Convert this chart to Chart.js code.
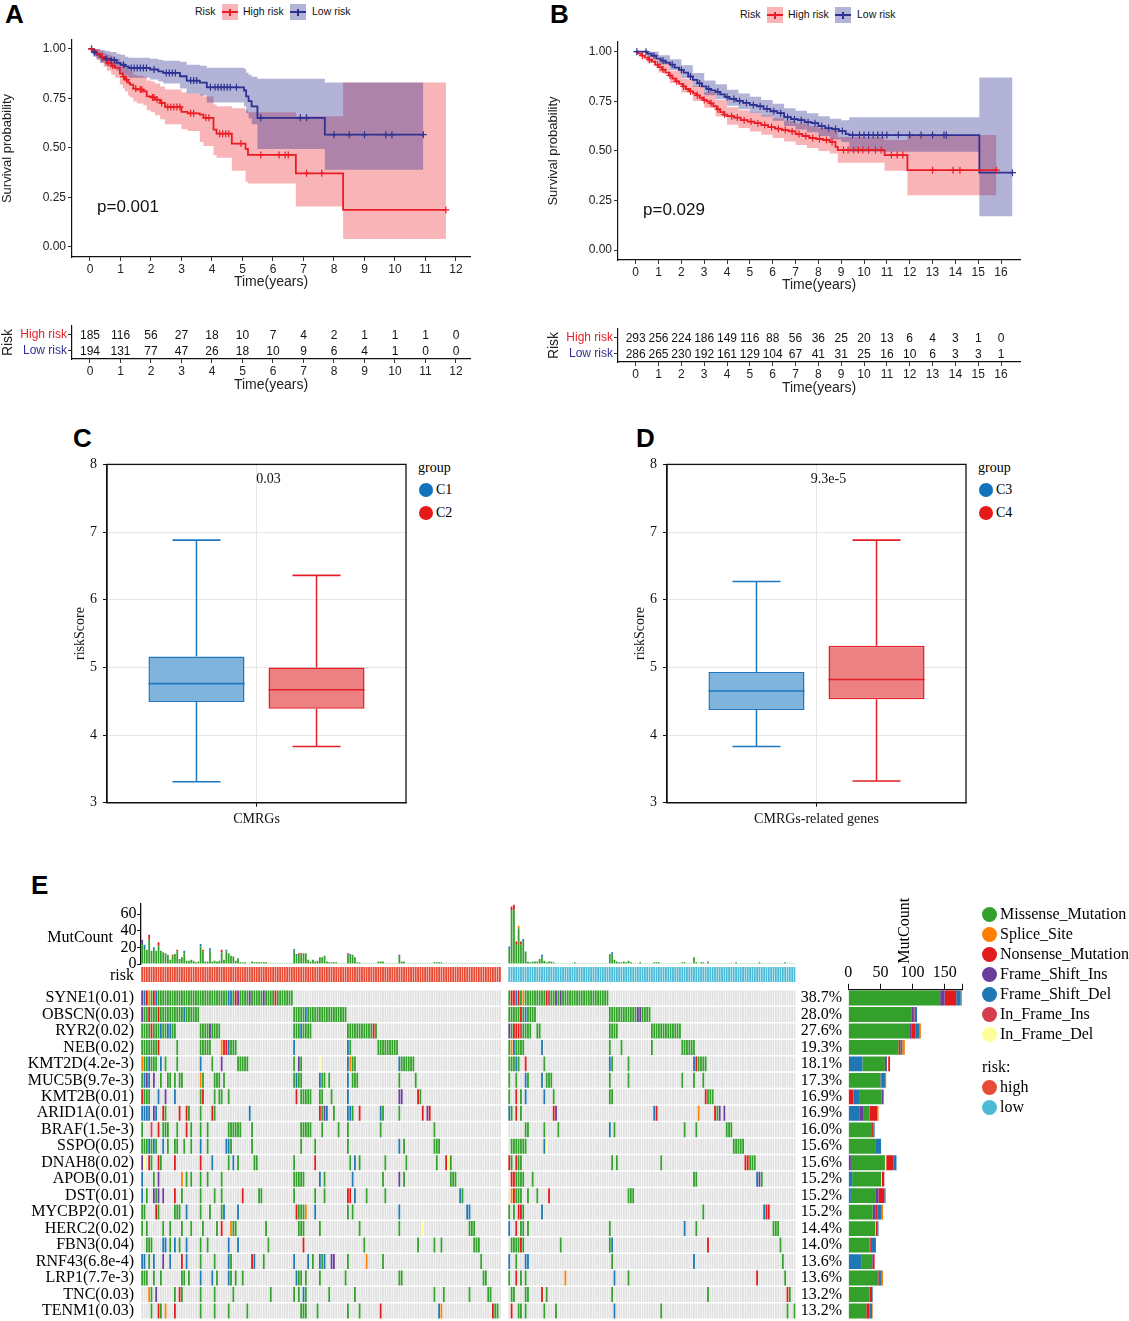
<!DOCTYPE html>
<html>
<head>
<meta charset="utf-8">
<script src="https://cdn.jsdelivr.net/npm/chart.js@4.4.1/dist/chart.umd.min.js"></script>
<style>
  html, body { margin: 0; padding: 0; background: #fff; overflow: hidden; }
  #page { position: relative; width: 1129px; height: 1321px; overflow: hidden; background: #fff; }
  #page canvas, #page div { position: absolute; }
  .t { white-space: nowrap; line-height: 1; color: #111; }
  .sans { font-family: 'Liberation Sans', Arial, sans-serif; }
  .serif { font-family: 'Liberation Serif', 'Times New Roman', serif; color: #000; }
  .tag { font-family: 'Liberation Sans', Arial, sans-serif; font-weight: bold; color: #000; }
</style>
</head>
<body>
<div id="page"></div>
<script>
// ---------- panel A / B : survival curves ----------
const kmAHighT  = [0, 0.1, 0.2, 0.33, 0.45, 0.55, 0.7, 0.82, 0.98, 1.08, 1.15, 1.25, 1.31, 1.42, 1.55, 1.75, 1.86, 2.0, 2.13, 2.3, 2.46, 3.0, 3.2, 3.6, 3.72, 4.05, 4.15, 4.65, 5.1, 5.18, 6.75, 8.3, 11.67];
const kmAHighS  = [1, 0.99, 0.975, 0.96, 0.945, 0.93, 0.915, 0.904, 0.875, 0.86, 0.845, 0.83, 0.82, 0.8, 0.795, 0.786, 0.76, 0.755, 0.744, 0.727, 0.707, 0.682, 0.675, 0.668, 0.652, 0.593, 0.572, 0.522, 0.495, 0.465, 0.372, 0.187, 0.187];
const kmAHighUp = [1, 1, 1, 0.99, 0.98, 0.97, 0.96, 0.95, 0.93, 0.92, 0.905, 0.895, 0.885, 0.87, 0.865, 0.86, 0.84, 0.835, 0.825, 0.81, 0.795, 0.78, 0.775, 0.77, 0.76, 0.72, 0.71, 0.70, 0.69, 0.68, 0.66, 0.83, 0.83];
const kmAHighLo = [1, 0.97, 0.95, 0.93, 0.91, 0.89, 0.87, 0.855, 0.82, 0.80, 0.785, 0.765, 0.755, 0.735, 0.725, 0.715, 0.69, 0.68, 0.665, 0.645, 0.62, 0.595, 0.585, 0.53, 0.51, 0.465, 0.45, 0.385, 0.33, 0.32, 0.205, 0.04, 0.04];
const kmAHighCens = [0.05, 0.4, 0.6, 0.75, 1.1, 1.2, 1.5, 1.65, 1.7, 2.05, 2.1, 2.2, 2.35, 2.55, 2.65, 2.75, 2.85, 2.95, 3.3, 3.4, 3.8, 3.9, 4.25, 4.35, 4.45, 4.55, 4.95, 5.6, 6.2, 6.4, 6.5, 7.1, 7.6, 11.67];

const kmALowT  = [0, 0.1, 0.22, 0.33, 0.5, 0.66, 0.87, 1.0, 1.15, 1.26, 1.97, 2.24, 2.4, 2.95, 3.17, 3.6, 3.83, 5.05, 5.12, 5.2, 5.3, 5.49, 7.7, 10.93];
const kmALowS  = [1, 0.983, 0.971, 0.96, 0.95, 0.943, 0.93, 0.92, 0.912, 0.904, 0.896, 0.887, 0.879, 0.862, 0.84, 0.83, 0.806, 0.79, 0.76, 0.736, 0.71, 0.652, 0.567, 0.567];
const kmALowUp = [1, 1, 1, 0.995, 0.99, 0.985, 0.975, 0.97, 0.96, 0.955, 0.95, 0.945, 0.94, 0.935, 0.92, 0.915, 0.905, 0.90, 0.88, 0.87, 0.86, 0.85, 0.83, 0.83];
const kmALowLo = [1, 0.96, 0.945, 0.93, 0.915, 0.905, 0.89, 0.875, 0.865, 0.855, 0.845, 0.835, 0.825, 0.80, 0.775, 0.765, 0.73, 0.71, 0.675, 0.65, 0.62, 0.495, 0.39, 0.39];
const kmALowCens = [0.05, 0.15, 0.4, 0.55, 0.7, 0.8, 1.1, 1.35, 1.45, 1.55, 1.65, 1.75, 1.85, 2.1, 2.5, 2.6, 2.7, 2.8, 3.3, 3.4, 3.5, 3.95, 4.1, 4.2, 4.3, 4.4, 4.5, 4.6, 4.8, 5.6, 6.9, 7.1, 8.0, 8.5, 9.0, 9.7, 9.9, 10.93];

const kmBHighT = [0, 0.1, 0.25, 0.4, 0.55, 0.7, 0.85, 1.0, 1.15, 1.3, 1.45, 1.6, 1.75, 1.9, 2.05, 2.2, 2.35, 2.5, 2.65, 2.8, 2.95, 3.1, 3.25, 3.4, 3.55, 3.7, 3.85, 4.0, 4.3, 4.6, 4.9, 5.2, 5.5, 5.8, 6.1, 6.4, 6.7, 7.0, 7.3, 7.6, 7.9, 8.2, 8.5, 8.75, 8.85, 10.9, 11.9, 15.8];
const kmBHighS = [1, 0.99, 0.98, 0.97, 0.96, 0.95, 0.935, 0.922, 0.91, 0.895, 0.88, 0.865, 0.85, 0.838, 0.825, 0.812, 0.80, 0.79, 0.78, 0.768, 0.757, 0.75, 0.74, 0.725, 0.71, 0.695, 0.683, 0.675, 0.668, 0.655, 0.648, 0.64, 0.63, 0.62, 0.612, 0.605, 0.598, 0.585, 0.575, 0.565, 0.56, 0.555, 0.545, 0.52, 0.504, 0.479, 0.403, 0.403];
const kmBHighCiT = [0, 0.5, 1, 1.5, 2, 2.5, 3, 3.5, 4, 4.5, 5, 5.5, 6, 6.5, 7, 7.5, 8, 8.5, 8.85, 10.9, 11.9, 15.8];
const kmBHighUp  = [1, 0.985, 0.95, 0.905, 0.865, 0.827, 0.797, 0.757, 0.72, 0.705, 0.692, 0.678, 0.665, 0.652, 0.638, 0.625, 0.615, 0.605, 0.57, 0.555, 0.58, 0.58];
const kmBHighLo  = [1, 0.945, 0.895, 0.842, 0.795, 0.752, 0.717, 0.673, 0.632, 0.615, 0.598, 0.582, 0.565, 0.548, 0.53, 0.515, 0.5, 0.487, 0.44, 0.40, 0.277, 0.277];
const kmBHighCens = [0.3, 0.6, 0.95, 1.2, 1.5, 1.8, 2.1, 2.4, 2.7, 3.0, 3.3, 3.6, 3.9, 4.2, 4.45, 4.75, 5.05, 5.35, 5.65, 5.95, 6.25, 6.55, 6.85, 7.15, 7.45, 7.75, 8.05, 8.35, 8.6, 9.1, 9.3, 9.55, 9.75, 9.95, 10.2, 10.5, 10.75, 11.2, 11.45, 11.7, 13.0, 13.9, 14.2, 15.8];

const kmBLowT = [0, 0.5, 0.7, 0.9, 1.1, 1.3, 1.5, 1.7, 1.9, 2.1, 2.3, 2.5, 2.7, 2.9, 3.1, 3.3, 3.5, 3.7, 3.9, 4.1, 4.4, 4.7, 5.0, 5.3, 5.6, 5.9, 6.2, 6.5, 6.8, 7.1, 7.4, 7.7, 8.0, 8.3, 8.6, 8.9, 9.2, 9.35, 15.05, 16.5];
const kmBLowS = [1, 0.99, 0.98, 0.965, 0.955, 0.945, 0.935, 0.92, 0.908, 0.895, 0.875, 0.858, 0.84, 0.825, 0.812, 0.805, 0.798, 0.785, 0.772, 0.762, 0.752, 0.742, 0.732, 0.725, 0.712, 0.70, 0.69, 0.67, 0.66, 0.655, 0.645, 0.64, 0.625, 0.615, 0.61, 0.60, 0.585, 0.58, 0.39, 0.39];
const kmBLowCiT = [0, 0.5, 1, 1.5, 2, 2.5, 3, 3.5, 4, 4.5, 5, 5.5, 6, 6.5, 7, 7.5, 8, 8.5, 9, 9.35, 15.05, 16.5];
const kmBLowUp  = [1, 1, 0.982, 0.962, 0.932, 0.893, 0.855, 0.836, 0.808, 0.79, 0.773, 0.757, 0.738, 0.715, 0.702, 0.69, 0.675, 0.662, 0.655, 0.67, 0.87, 0.87];
const kmBLowLo  = [1, 0.975, 0.937, 0.908, 0.868, 0.823, 0.781, 0.76, 0.728, 0.71, 0.691, 0.673, 0.652, 0.625, 0.608, 0.594, 0.575, 0.558, 0.545, 0.496, 0.171, 0.171];
const kmBLowCens = [0.05, 0.45, 0.8, 1.2, 1.6, 2.0, 2.4, 2.8, 3.2, 3.6, 4.0, 4.3, 4.55, 4.85, 5.15, 5.45, 5.75, 6.05, 6.35, 6.65, 6.95, 7.25, 7.55, 7.85, 8.15, 8.45, 8.75, 9.05, 9.5, 9.8, 10.0, 10.2, 10.4, 10.6, 10.8, 11.0, 11.5, 12.0, 12.5, 13.0, 13.5, 13.6, 16.5];

const survTicks = [0, 0.25, 0.5, 0.75, 1];
const yearsA = [0, 1, 2, 3, 4, 5, 6, 7, 8, 9, 10, 11, 12];
const yearsB = [0, 1, 2, 3, 4, 5, 6, 7, 8, 9, 10, 11, 12, 13, 14, 15, 16];
const atRiskAHigh = [185, 116, 56, 27, 18, 10, 7, 4, 2, 1, 1, 1, 0];
const atRiskALow  = [194, 131, 77, 47, 26, 18, 10, 9, 6, 4, 1, 0, 0];
const atRiskBHigh = [293, 256, 224, 186, 149, 116, 88, 56, 36, 25, 20, 13, 6, 4, 3, 1, 0];
const atRiskBLow  = [286, 265, 230, 192, 161, 129, 104, 67, 41, 31, 25, 16, 10, 6, 3, 3, 1];

// ---------- panel C / D : riskScore boxes (min, q1, median, q3, max) ----------
const boxC1 = [3.31, 4.49, 4.76, 5.16, 6.88];
const boxC2 = [3.83, 4.39, 4.67, 5.00, 6.36];
const boxC3 = [3.83, 4.37, 4.65, 4.93, 6.27];
const boxC4 = [3.32, 4.53, 4.82, 5.32, 6.88];
const scoreTicks = [3, 4, 5, 6, 7, 8];

// ---------- panel E : oncoplot ----------
const geneNames = ['SYNE1(0.01)', 'OBSCN(0.03)', 'RYR2(0.02)', 'NEB(0.02)', 'KMT2D(4.2e-3)', 'MUC5B(9.7e-3)', 'KMT2B(0.01)', 'ARID1A(0.01)', 'BRAF(1.5e-3)', 'SSPO(0.05)', 'DNAH8(0.02)', 'APOB(0.01)', 'DST(0.01)', 'MYCBP2(0.01)', 'HERC2(0.02)', 'FBN3(0.04)', 'RNF43(6.8e-4)', 'LRP1(7.7e-3)', 'TNC(0.03)', 'TENM1(0.03)'];
const genePct = ['38.7%', '28.0%', '27.6%', '19.3%', '18.1%', '17.3%', '16.9%', '16.9%', '16.0%', '15.6%', '15.6%', '15.2%', '15.2%', '15.2%', '14.4%', '14.0%', '13.6%', '13.6%', '13.2%', '13.2%'];
const nHigh = 154, nLow = 123, nGap = 3;

// cells per sample: g missense, o splice, r nonsense, p fs ins, b fs del, m inframe ins, y inframe del
const highCells = [
  '0-64g 0p 1b 2r 3o 5r 6b 37b 38b 40r 41p 46p 52p 57r',
  '0-24g 65-87g 0p 3r 7r 18b 70b',
  '0-14g 25-33g 65-72g 88-100g 4r 8b 11b 12b 29p 68b 99r',
  '0-7g 15g 25-29g 34-40g 65b 88b 89g 101-109g 7r 34o 35r 36r 37b',
  '0o 1-6g 3b 8b 10g 15g 25b 30g 34p 41-45g 65g 67p 68g 76y 88b 89o 90-91g 110b 111-116g',
  '0g 1b 2p 3b 5p 8g 11-12g 14g 16-17g 25o 26g 31-33g 35g 65-67g 66b 68g 76-78g 76b 80g 88b 90-92g 110g 117g',
  '0r 1-3g 7b 10p 14b 25g 26r 31g 33-34g 37g 66r 68-72g 76-77g 81g 88b 110p 111p 118r 119g',
  '0-3b 5p 6b 9r 10g 16r 19r 20g 25g 30r 31g 46b 76r 77g 78p 79b 82g 88b 89b 90g 93r 102b 103g 110g 120r 122p 123r',
  '0g 4m 7r 9-11g 15g 19r 21g 25g 28g 37-42g 47g 68-72g 77g 84g 88g 102g 125g',
  '0-6g 3b 5b 9b 11g 14-15g 18g 21g 25b 28g 36b 37b 38g 47g 68g 74g 88g 110b 112g 125-127g',
  '0p 1y 3r 4g 7r 8g 14r 25r 30b 37g 39b 41g 48-49g 65g 74r 89g 91b 93g 104g 113g 126g 130r 131y 132g',
  '0b 5g 7p 17o 19g 21g 25g 28g 34g 65-69g 76b 78g 90b 103g 110p 112g 132-134g',
  '0b 2g 5p 6g 7p 9p 14r 17g 25g 31g 34g 43r 50-51g 65g 74g 78g 88r 89r 91b 96g 104g 136b 137g',
  '0-1g 6r 7g 14-16g 19b 25g 29g 34g 35b 41b 66r 67-69g 70o 74b 88g 90g 110b 139b 140b',
  '0g 2g 9g 12g 17g 21g 26g 32g 34r 38o 39-40g 53g 67-69g 76g 93g 110g 120y 140-142g',
  '2-4g 9b 10b 12g 14b 16g 19b 25g 28g 37b 41b 54g 69r 95g 118g 125g 128g 142-144g',
  '0b 1b 3g 5b 9p 12b 17r 19b 25g 31g 37b 38g 47r 48b 52g 65b 71b 73g 76b 77g 78b 81p 82p 88g 96o 103g 145g',
  '0-2g 5g 8g 17-18g 20g 25b 30b 32g 37b 38g 40g 43g 66b 67-68g 70g 76g 87g 110-111g 146-147g',
  '3o 4g 6p 14g 16r 17g 25g 31g 39g 55g 65g 67g 69b 70g 80g 91g 125g 129g 140g 148-149g',
  '4g 7r 8g 10o 14r 25g 31g 37g 45g 68-70g 75g 88g 93g 102r 127b 128o 150r 151-152g'
];
const lowCells = [
  '0-42g 1r 2r 3b 4r 6o 16r 17m 20p 22p',
  '0-11g 5r 7b 43-60g 55p 56p',
  '0-9g 0p 2r 3r 4r 5m 12g 13g 43-46g 61-73g',
  '0-6g 1o 2b 14b 43g 48g 61g 74-79g',
  '0-4g 3b 7r 15g 43b 44g 51g 79b 80r 81-84g',
  '0g 3g 7b 8g 14b 16-18g 43g 51g 74g 79g 83g',
  '0g 3r 5g 7b 15b 19g 43-44g 84r 85-87g',
  '0b 1g 3r 5g 19r 20p 62b 63r 81o 88r 89g 90p 92p',
  '7-8g 15g 21g 43b 45g 75g 80g 93-95g',
  '1-7g 15b 16y 96-100g',
  '0r 1g 3r 4-5g 44g 46g 65g 101r 102r 103-105g',
  '1r 2r 3-6g 10g 79-80g 106b 107p 108g',
  '1o 2r 3-5g 8g 12g 17r 51-53g',
  '0g 2g 4r 5r 6g 14b 83g 109b 110r 111r',
  '0b 3r 5g 6g 8g 43g 75b 80g 113-115g',
  '1-6g 5r 22g 43g 44b 85r 116g',
  '0b 3g 7b 8b 44g 79b 117g',
  '0g 3r 5g 7g 24o 45b 51g 106r 118g',
  '1-2g 7-8g 14r 16g 44g 85g 119r 120g',
  '1r 4-5g 7g 15g 20g 45b 65g 119g 122g'
];

// mutations per sample (top bar) and the non-missense part on top of each bar
const mutCountHigh = [29, 23, 17, 35, 16, 20, 16, 26, 16, 14, 13, 11, 5, 11, 12, 17, 6, 8, 16, 4, 4, 5, 4, 2, 3, 24, 17, 3, 3, 19, 3, 4, 3, 4, 17, 5, 17, 13, 10, 9, 4, 7, 2, 2, 2, 1, 1, 3, 2, 2, 2, 2, 2, 2, 1, 1, 1, 1, 1, 1, 1, 1, 1, 1, 1, 18, 12, 13, 13, 13, 13, 5, 3, 5, 3, 4, 8, 8, 10, 3, 2, 2, 2, 2, 1, 1, 1, 1, 13, 12, 11, 8, 2, 2, 1, 1, 1, 1, 1, 1, 1, 3, 3, 3, 1, 1, 1, 1, 1, 1, 11, 3, 3, 1, 1, 1, 1, 1, 1, 1, 1, 1, 1, 1, 1, 2, 2, 2, 2, 1, 1, 1, 1, 1, 1, 1, 1, 1, 1, 1, 1, 1, 1, 1, 1, 1, 1, 1, 1, 1, 1, 1, 1, 1];
const mutCountLow = [21, 69, 71, 27, 46, 27, 30, 15, 3, 2, 3, 3, 3, 6, 11, 4, 2, 3, 3, 2, 1, 1, 1, 1, 1, 1, 1, 1, 2, 1, 1, 1, 1, 1, 1, 1, 1, 1, 1, 1, 1, 1, 1, 12, 14, 5, 3, 2, 2, 3, 2, 4, 2, 1, 1, 1, 2, 1, 1, 1, 1, 1, 2, 2, 2, 1, 1, 1, 1, 1, 1, 1, 1, 1, 2, 2, 1, 1, 1, 8, 2, 1, 2, 2, 1, 3, 1, 1, 1, 1, 1, 1, 1, 1, 1, 1, 1, 2, 1, 1, 1, 1, 1, 1, 1, 1, 1, 2, 1, 1, 1, 1, 1, 1, 1, 1, 1, 1, 2, 1, 1, 1, 1];
const mutTopHigh = [[0, 'p', 5], [1, 'b', 5], [3, 'r', 6], [5, 'b', 2], [7, 'r', 4], [13, 'r', 2], [15, 'r', 2], [18, 'b', 3], [25, 'b', 3], [26, 'r', 2], [29, 'b', 3], [34, 'r', 3], [36, 'b', 2], [65, 'b', 2], [66, 'b', 3], [67, 'r', 2], [68, 'r', 2], [88, 'r', 2], [89, 'b', 2], [110, 'p', 2]];
const mutTopLow = [[0, 'b', 4], [1, 'r', 5], [2, 'r', 6], [3, 'r', 4], [4, 'o', 3], [5, 'r', 4], [6, 'b', 4], [14, 'b', 3], [44, 'b', 3], [85, 'r', 1]];

// per-gene mutation counts (right bar), in drawing order left -> right
const geneSpliceLead  = [0, 0, 0, 0, 1, 0, 0, 0, 0, 0, 0, 0, 0, 0, 0, 0, 0, 0, 1, 0];
const geneNonsLead    = [0, 0, 0, 0, 0, 0, 8, 0, 0, 0, 0, 0, 0, 0, 0, 0, 0, 0, 0, 0];
const geneFsDelLead   = [0, 0, 0, 0, 21, 0, 10, 18, 0, 0, 0, 6, 4, 0, 0, 0, 20, 0, 0, 0];
const geneFsInsLead   = [0, 0, 0, 0, 0, 0, 0, 5, 0, 0, 4, 0, 0, 0, 0, 0, 0, 0, 0, 0];
const geneMissense    = [143, 99, 96, 78, 35, 50, 34, 10, 37, 43, 53, 45, 39, 38, 42, 33, 17, 45, 32, 28];
const geneFsIns       = [7, 3, 2, 0, 3, 2, 3, 0, 0, 0, 0, 0, 4, 4, 0, 0, 1, 0, 0, 0];
const geneInDel       = [0, 0, 0, 0, 2, 0, 0, 0, 0, 0, 2, 1, 0, 0, 1, 0, 0, 0, 0, 0];
const geneNonsense    = [18, 1, 7, 3, 3, 0, 0, 12, 2, 0, 11, 4, 9, 3, 2, 2, 3, 2, 4, 5];
const geneFsDel       = [7, 4, 6, 3, 0, 6, 0, 0, 2, 8, 5, 0, 2, 7, 2, 8, 0, 5, 1, 4];
const geneSplice      = [2, 0, 2, 4, 0, 1, 0, 2, 0, 0, 0, 0, 0, 2, 0, 0, 0, 2, 0, 1];
const geneBarTicks = [0, 50, 100, 150, 177];

// ---------- styling ----------
const SANS = "'Liberation Sans', Arial, sans-serif";
const SERIF = "'Liberation Serif', 'Times New Roman', serif";
const RED = '#ec1c24', BLUE = '#2e3192';
const PINK = 'rgba(236,28,36,0.33)', LAV = 'rgba(46,49,146,0.37)';
const RISK_HIGH = '#e64b35', RISK_LOW = '#4dbbd5';
const mutColors = { g: '#33a02c', o: '#ff7f00', r: '#e31a1c', p: '#6a3d9a', b: '#1f78b4', m: '#d53e4f', y: '#ffff99', '.': '#e2e2e2' };
const mutLegend = [['Missense_Mutation', 'g'], ['Splice_Site', 'o'], ['Nonsense_Mutation', 'r'], ['Frame_Shift_Ins', 'p'], ['Frame_Shift_Del', 'b'], ['In_Frame_Ins', 'm'], ['In_Frame_Del', 'y']];

const page = document.getElementById('page');
function txt(s, x, y, size, cls, extra) {
  const d = document.createElement('div');
  d.className = 't ' + cls;
  d.textContent = s;
  d.style.left = x + 'px';
  d.style.top = (y - size * 0.55) + 'px';
  d.style.fontSize = size + 'px';
  if (extra) Object.assign(d.style, extra);
  page.appendChild(d);
  return d;
}
function blob(x, y, w, h, color, extra) {
  const d = document.createElement('div');
  Object.assign(d.style, { left: x + 'px', top: y + 'px', width: w + 'px', height: h + 'px', background: color }, extra || {});
  page.appendChild(d);
  return d;
}
function dot(cx, cy, r, color) { return blob(cx - r, cy - r, 2 * r, 2 * r, color, { borderRadius: '50%' }); }
function makeCanvas(x, y, w, h) {
  const c = document.createElement('canvas');
  c.width = w; c.height = h;
  Object.assign(c.style, { left: x + 'px', top: y + 'px', width: w + 'px', height: h + 'px' });
  page.appendChild(c);
  return c;
}
function keyBox(x, y, bg, line) {
  blob(x, y, 16, 16, bg);
  blob(x, y + 7.2, 16, 1.8, line);
  blob(x + 7.2, y + 4.5, 1.6, 7, line);
}

// text drawn at data coordinates
const textMarks = {
  id: 'textMarks',
  afterDatasetsDraw(chart, args, opts) {
    const ctx = chart.ctx;
    (opts.items || []).forEach(it => {
      ctx.save();
      ctx.font = it.font;
      ctx.fillStyle = it.color || '#111';
      ctx.textAlign = it.align || 'left';
      ctx.textBaseline = 'middle';
      ctx.fillText(it.text, chart.scales.x.getPixelForValue(it.x) + (it.dx || 0), chart.scales.y.getPixelForValue(it.y));
      ctx.restore();
    });
  }
};
const riskNumbers = {
  id: 'riskNumbers',
  afterDatasetsDraw(chart) {
    const ctx = chart.ctx;
    ctx.save();
    ctx.font = '12px ' + SANS;
    ctx.fillStyle = '#111';
    ctx.textAlign = 'center';
    ctx.textBaseline = 'middle';
    chart.data.datasets.forEach((ds, di) => {
      chart.getDatasetMeta(di).data.forEach((pt, i) => ctx.fillText(String(ds.data[i].n), pt.x, pt.y + 1));
    });
    ctx.restore();
  }
};
const frame = {
  id: 'frame',
  afterDraw(chart) {
    const a = chart.chartArea, ctx = chart.ctx;
    ctx.save();
    ctx.strokeStyle = '#111';
    ctx.lineWidth = 1.3;
    ctx.strokeRect(a.left, a.top, a.right - a.left, a.bottom - a.top);
    ctx.restore();
  }
};

const base = { responsive: false, maintainAspectRatio: false, animation: false, events: [] };
const noLegend = { legend: { display: false }, tooltip: { enabled: false } };

// ---------- Kaplan-Meier ----------
function stepAt(t, s, x) {
  let v = s[0];
  for (let i = 0; i < t.length; i++) if (t[i] <= x) v = s[i];
  return v;
}
function kmChart(cv, o) {
  const pts = (t, v) => t.map((x, i) => ({ x, y: v[i] }));
  const band = (t, v, fill, color) => ({ type: 'line', data: pts(t, v), stepped: true, borderWidth: 0, borderColor: 'transparent', pointRadius: 0, fill, backgroundColor: color, order: 2 });
  const line = (t, s, color) => ({ type: 'line', data: pts(t, s), stepped: true, borderColor: color, borderWidth: 1.8, pointRadius: 0, fill: false, order: 1 });
  const cens = (c, t, s, color) => ({ type: 'scatter', data: c.map(x => ({ x, y: stepAt(t, s, x) })), pointStyle: 'cross', pointRadius: 3.5, pointBorderColor: color, pointBorderWidth: 1.2, order: 0 });
  return new Chart(cv, {
    type: 'line',
    data: { datasets: [
      band(o.lo.ciT, o.lo.up, '+1', LAV), band(o.lo.ciT, o.lo.dn, false, LAV),
      band(o.hi.ciT, o.hi.up, '+1', PINK), band(o.hi.ciT, o.hi.dn, false, PINK),
      line(o.hi.t, o.hi.s, RED), line(o.lo.t, o.lo.s, BLUE),
      cens(o.hi.c, o.hi.t, o.hi.s, RED), cens(o.lo.c, o.lo.t, o.lo.s, BLUE)
    ] },
    options: {
      ...base,
      layout: { padding: { top: 10, right: 10, left: 0, bottom: 0 } },
      plugins: { ...noLegend, textMarks: { items: [{ x: o.px, y: 0.2, text: o.p, font: '17px ' + SANS }] } },
      scales: {
        x: {
          type: 'linear', min: o.xr[0], max: o.xr[1],
          afterBuildTicks: s => { s.ticks = o.years.map(v => ({ value: v })); },
          afterFit: s => { s.height = 38; },
          grid: { drawOnChartArea: false, tickLength: 4, color: '#333' },
          border: { color: '#111', width: 1.2 },
          ticks: { font: { family: SANS, size: 12 }, color: '#222', padding: 1, maxRotation: 0, autoSkip: false },
          title: { display: true, text: 'Time(years)', font: { family: SANS, size: 14 }, color: '#222', padding: { top: 0, bottom: 4 } }
        },
        y: {
          type: 'linear', min: o.yr[0], max: o.yr[1],
          afterBuildTicks: s => { s.ticks = survTicks.map(v => ({ value: v })); },
          afterFit: s => { s.width = 72; },
          grid: { drawOnChartArea: false, tickLength: 4, color: '#333' },
          border: { color: '#111', width: 1.2 },
          ticks: { font: { family: SANS, size: 12 }, color: '#222', padding: 2, autoSkip: false, callback: v => v.toFixed(2) },
          title: { display: true, text: 'Survival probability', font: { family: SANS, size: 13 }, color: '#222', padding: 0 }
        }
      }
    },
    plugins: [textMarks]
  });
}
function riskTable(cv, years, high, low, xr) {
  return new Chart(cv, {
    type: 'scatter',
    data: { datasets: [
      { data: years.map((x, i) => ({ x, y: 'High risk', n: high[i] })), pointRadius: 0 },
      { data: years.map((x, i) => ({ x, y: 'Low risk', n: low[i] })), pointRadius: 0 }
    ] },
    options: {
      ...base,
      layout: { padding: { top: 8, right: 10, left: 0, bottom: 0 } },
      plugins: noLegend,
      scales: {
        x: {
          type: 'linear', min: xr[0], max: xr[1],
          afterBuildTicks: s => { s.ticks = years.map(v => ({ value: v })); },
          afterFit: s => { s.height = 36; },
          grid: { drawOnChartArea: false, tickLength: 4, color: '#333' },
          border: { color: '#111', width: 1.2 },
          ticks: { font: { family: SANS, size: 12 }, color: '#222', padding: 1, maxRotation: 0, autoSkip: false },
          title: { display: true, text: 'Time(years)', font: { family: SANS, size: 14 }, color: '#222', padding: { top: 0, bottom: 1.6 } }
        },
        y: {
          type: 'category', labels: ['High risk', 'Low risk'], offset: true,
          afterFit: s => { s.width = 72; },
          grid: { drawOnChartArea: false, offset: false, tickLength: 4, color: '#333' },
          border: { color: '#111', width: 1.2 },
          ticks: { autoSkip: false, font: { family: SANS, size: 12, lineHeight: 1 }, color: c => (c.index === 0 ? RED : BLUE), padding: 1 },
          title: { display: true, text: 'Risk', font: { family: SANS, size: 14 }, color: '#222', padding: 0 }
        }
      }
    },
    plugins: [riskNumbers]
  });
}

// ---------- box plots ----------
function boxChart(cv, label, groups, pText) {
  const d = 0.012, cp = 0.803;
  const ds = [];
  groups.forEach(g => {
    const [mn, q1, md, q3, mx] = g.v;
    const common = { stack: g.name, borderSkipped: false, categoryPercentage: cp };
    ds.push({ ...common, data: [[md - d, md + d]], backgroundColor: g.line, barPercentage: 0.8, order: 0 });
    ds.push({ ...common, data: [[q1, q3]], backgroundColor: g.fill, borderColor: g.line, borderWidth: 1.5, barPercentage: 0.8, order: 1 });
    ds.push({ ...common, data: [[mn, q1]], backgroundColor: g.line, barPercentage: 0.0125, order: 2 });
    ds.push({ ...common, data: [[q3, mx]], backgroundColor: g.line, barPercentage: 0.0125, order: 2 });
    ds.push({ ...common, data: [[mn - d, mn + d]], backgroundColor: g.line, barPercentage: 0.4, order: 2 });
    ds.push({ ...common, data: [[mx - d, mx + d]], backgroundColor: g.line, barPercentage: 0.4, order: 2 });
  });
  return new Chart(cv, {
    type: 'bar',
    data: { labels: [label], datasets: ds },
    options: {
      ...base,
      layout: { padding: { top: 11, right: 4, left: 0, bottom: 0 } },
      plugins: { ...noLegend, textMarks: { items: [{ x: 0, y: 7.78, dx: 12, text: pText, align: 'center', font: '14px ' + SERIF, color: '#111' }] } },
      scales: {
        x: {
          offset: true,
          afterFit: s => { s.height = 28.3; },
          grid: { offset: false, color: '#e6e6e6', tickColor: '#111', tickLength: 4 },
          border: { color: '#111', width: 1.3 },
          ticks: { font: { family: SERIF, size: 14 }, color: '#111', padding: 4 }
        },
        y: {
          stacked: false, min: 3, max: 8,
          afterBuildTicks: s => { s.ticks = scoreTicks.map(v => ({ value: v })); },
          afterFit: s => { s.width = 47; },
          grid: { color: '#e6e6e6', tickColor: '#111', tickLength: 4 },
          border: { color: '#111', width: 1.3 },
          ticks: { autoSkip: false, font: { family: SERIF, size: 14 }, color: '#111', padding: 6 },
          title: { display: true, text: 'riskScore', font: { family: SERIF, size: 14 }, color: '#111', padding: { top: 11.6, bottom: 0 } }
        }
      }
    },
    plugins: [textMarks, frame]
  });
}

// ---------- oncoplot helpers ----------
function decodeRow(spec, n) {
  const row = Array(n).fill('.');
  spec.split(' ').forEach(tok => {
    const m = tok.match(/^(\d+)(?:-(\d+))?([a-z])$/);
    const a = +m[1], b = m[2] ? +m[2] : a;
    for (let i = a; i <= b && i < n; i++) row[i] = m[3];
  });
  return row;
}
const highRows = highCells.map(s => decodeRow(s, nHigh));
const lowRows = lowCells.map(s => decodeRow(s, nLow));
const nCols = nHigh + nGap + nLow;
const cols = Array.from({ length: nCols }, (_, i) => i);
const isGap = i => i >= nHigh && i < nHigh + nGap;
const lowIdx = i => i - nHigh - nGap;
const cellType = (k, i) => (i < nHigh ? highRows[k][i] : isGap(i) ? null : lowRows[k][lowIdx(i)]);

const E_LEFT = 141, E_RIGHT_AXIS = 50.3, E_W = 846;

// ---------- build page ----------
// panel letters
txt('A', 5, 15, 26, 'tag');
txt('B', 550, 15, 26, 'tag');
txt('C', 73, 439, 26, 'tag');
txt('D', 636, 439, 26, 'tag');
txt('E', 31, 886, 26, 'tag');

// KM legends
txt('Risk', 195, 12, 10.5, 'sans');
keyBox(222, 4, PINK, RED);
txt('High risk', 243, 12, 10.5, 'sans');
keyBox(290, 4, LAV, BLUE);
txt('Low risk', 312, 12, 10.5, 'sans');
txt('Risk', 740, 15, 10.5, 'sans');
keyBox(767, 7, PINK, RED);
txt('High risk', 788, 15, 10.5, 'sans');
keyBox(835, 7, LAV, BLUE);
txt('Low risk', 857, 15, 10.5, 'sans');

kmChart(makeCanvas(0, 30, 480, 265), {
  hi: { t: kmAHighT, s: kmAHighS, ciT: kmAHighT, up: kmAHighUp, dn: kmAHighLo, c: kmAHighCens },
  lo: { t: kmALowT, s: kmALowS, ciT: kmALowT, up: kmALowUp, dn: kmALowLo, c: kmALowCens },
  xr: [-0.59, 12.46], yr: [-0.0505, 1.045], years: yearsA, p: 'p=0.001', px: 0.23
});
kmChart(makeCanvas(546, 32, 484, 266), {
  hi: { t: kmBHighT, s: kmBHighS, ciT: kmBHighCiT, up: kmBHighUp, dn: kmBHighLo, c: kmBHighCens },
  lo: { t: kmBLowT, s: kmBLowS, ciT: kmBLowCiT, up: kmBLowUp, dn: kmBLowLo, c: kmBLowCens },
  xr: [-0.775, 16.83], yr: [-0.05, 1.049], years: yearsB, p: 'p=0.029', px: 0.32
});
riskTable(makeCanvas(0, 318, 480, 77), yearsA, atRiskAHigh, atRiskALow, [-0.59, 12.46]);
riskTable(makeCanvas(546, 321, 484, 77), yearsB, atRiskBHigh, atRiskBLow, [-0.775, 16.83]);

// box plots
const blueBox = { fill: 'rgb(127,180,221)', line: 'rgb(31,120,191)' };
const redBox = { fill: 'rgb(237,128,128)', line: 'rgb(226,30,38)' };
boxChart(makeCanvas(60, 450, 350, 381), 'CMRGs', [{ name: 'C1', v: boxC1, ...blueBox }, { name: 'C2', v: boxC2, ...redBox }], '0.03');
boxChart(makeCanvas(620, 450, 350, 381), 'CMRGs-related genes', [{ name: 'C3', v: boxC3, ...blueBox }, { name: 'C4', v: boxC4, ...redBox }], '9.3e-5');
[[418, ['C1', 'C2']], [978, ['C3', 'C4']]].forEach(([x, names]) => {
  txt('group', x, 469, 14, 'serif');
  dot(x + 7.5, 490, 7, '#0f72ba');
  txt(names[0], x + 18, 491, 14, 'serif');
  dot(x + 7.5, 513, 7, '#e31a1c');
  txt(names[1], x + 18, 514, 14, 'serif');
});

// E: mutation count per sample
const topByType = {};
const missenseTop = cols.map(i => (isGap(i) ? null : i < nHigh ? mutCountHigh[i] : mutCountLow[lowIdx(i)]));
[[mutTopHigh, 0], [mutTopLow, nHigh + nGap]].forEach(([list, off]) => {
  list.forEach(([c, t, n]) => {
    if (!topByType[t]) topByType[t] = cols.map(() => 0);
    topByType[t][c + off] = n;
    missenseTop[c + off] -= n;
  });
});
const topSets = [{ data: missenseTop, backgroundColor: mutColors.g }].concat(
  Object.keys(topByType).map(t => ({ data: topByType[t], backgroundColor: mutColors[t] })));
new Chart(makeCanvas(0, 892, E_W, 82), {
  type: 'bar',
  data: { labels: cols, datasets: topSets },
  options: {
    ...base,
    datasets: { bar: { barPercentage: 0.75, categoryPercentage: 1, borderWidth: 0 } },
    layout: { padding: { top: 12, bottom: 10, left: 0, right: E_RIGHT_AXIS } },
    plugins: noLegend,
    scales: {
      x: { stacked: true, display: false, offset: true },
      y: {
        stacked: true, min: 0, max: 72,
        afterBuildTicks: s => { s.ticks = [0, 20, 40, 60].map(v => ({ value: v })); },
        afterFit: s => { s.width = E_LEFT; },
        grid: { drawOnChartArea: false, tickLength: 4, color: '#111' },
        border: { color: '#111', width: 1.3 },
        ticks: { autoSkip: false, font: { family: SERIF, size: 16, lineHeight: 1 }, color: '#000', padding: 0.5 }
      }
    }
  }
});
txt('MutCount', 0, 938, 16, 'serif', { width: '113px', textAlign: 'right' });

// E: oncoplot matrix + risk strip
const matrixSets = geneNames.map((g, k) => ({
  data: cols.map(i => (isGap(i) ? null : [k - 0.455, k + 0.455])),
  backgroundColor: cols.map(i => mutColors[cellType(k, i) || '.'])
}));
matrixSets.push({
  data: cols.map(i => (isGap(i) ? null : [-1.885, -0.975])),
  backgroundColor: cols.map(i => (i < nHigh ? RISK_HIGH : RISK_LOW))
});
const rowMin = -1.943, rowMax = 19.551;
new Chart(makeCanvas(0, 950, E_W, 386), {
  type: 'bar',
  data: { labels: cols, datasets: matrixSets },
  options: {
    ...base,
    datasets: { bar: { grouped: false, barPercentage: 0.78, categoryPercentage: 1, borderWidth: 0 } },
    layout: { padding: { top: 16, bottom: 16, left: 0, right: 0 } },
    plugins: noLegend,
    scales: {
      x: { display: false, offset: true },
      y: {
        type: 'linear', reverse: true, min: rowMin, max: rowMax,
        afterBuildTicks: s => { s.ticks = [{ value: -1.35 }].concat(geneNames.map((g, k) => ({ value: k }))); },
        afterFit: s => { s.width = E_LEFT; },
        grid: { display: false, drawTicks: false },
        border: { display: false },
        ticks: { autoSkip: false, padding: 7, font: { family: SERIF, size: 16, lineHeight: 1 }, color: '#000', callback: (v, i) => (i === 0 ? 'risk' : geneNames[i - 1]) }
      },
      y2: {
        type: 'linear', position: 'right', reverse: true, min: rowMin, max: rowMax,
        afterBuildTicks: s => { s.ticks = geneNames.map((g, k) => ({ value: k })); },
        afterFit: s => { s.width = E_RIGHT_AXIS; },
        grid: { display: false, drawTicks: false },
        border: { display: false },
        ticks: { autoSkip: false, padding: 5, font: { family: SERIF, size: 16, lineHeight: 1 }, color: '#000', callback: (v, i) => genePct[i] }
      }
    }
  }
});

// E: mutation count per gene
const geneSets = [
  [geneSpliceLead, 'o'], [geneNonsLead, 'r'], [geneFsDelLead, 'b'], [geneFsInsLead, 'p'],
  [geneMissense, 'g'], [geneFsIns, 'p'], [geneInDel, 'y'], [geneNonsense, 'r'], [geneFsDel, 'b'], [geneSplice, 'o']
].map(([arr, t]) => ({ data: arr, backgroundColor: mutColors[t] }));
new Chart(makeCanvas(840, 958, 132, 364), {
  type: 'bar',
  data: { labels: geneNames, datasets: geneSets },
  options: {
    ...base,
    indexAxis: 'y',
    datasets: { bar: { barPercentage: 0.9, categoryPercentage: 1, borderWidth: 0 } },
    layout: { padding: { top: 0, bottom: 2.8, left: 8.3, right: 10 } },
    plugins: noLegend,
    scales: {
      x: {
        position: 'top', stacked: true, min: 0, max: 177,
        afterBuildTicks: s => { s.ticks = geneBarTicks.map(v => ({ value: v })); },
        afterFit: s => { s.height = 31.8; },
        grid: { drawOnChartArea: false, tickLength: 6, color: '#111' },
        border: { color: '#111', width: 1.3 },
        ticks: { font: { family: SERIF, size: 16 }, color: '#000', padding: 1, maxRotation: 0, autoSkip: false, callback: v => (v === 177 ? '' : v) }
      },
      y: { stacked: true, display: false, offset: true }
    }
  }
});
txt('MutCount', 904, 930, 16, 'serif', { transform: 'translate(-50%, -45%) rotate(-90deg)', left: '904px', top: '930px' });

// E legend
mutLegend.forEach(([name, t], i) => {
  const y = 914 + i * 20;
  dot(989, y, 7.5, mutColors[t]);
  txt(name, 1000, y + 1, 16, 'serif');
});
txt('risk:', 982, 1068, 16, 'serif');
dot(989, 1087, 7.5, RISK_HIGH);
txt('high', 1000, 1088, 16, 'serif');
dot(989, 1107, 7.5, RISK_LOW);
txt('low', 1000, 1108, 16, 'serif');
</script>
</body>
</html>
